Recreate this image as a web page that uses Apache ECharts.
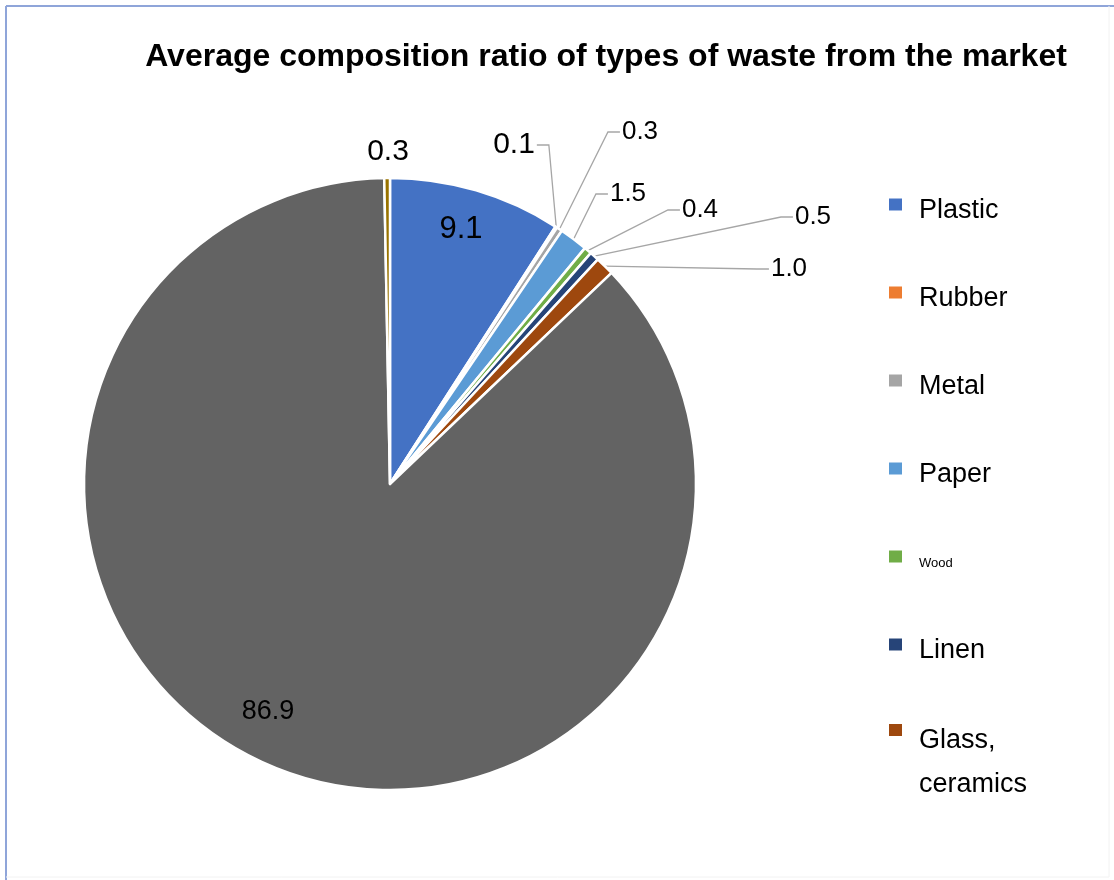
<!DOCTYPE html>
<html>
<head>
<meta charset="utf-8">
<script src="https://cdn.jsdelivr.net/npm/echarts@6/dist/echarts.min.js"></script>
<style>
html,body{margin:0;padding:0;background:#ffffff;}
#main{width:1114px;height:880px;}
</style>
</head>
<body>
<div id="main"></div>
<script>
// ---- data ----
const categories = ['Plastic', 'Rubber', 'Metal', 'Paper', 'Wood', 'Linen', 'Glass, ceramics', 'Organic', 'Other'];
const values = [9.1, 0.1, 0.3, 1.5, 0.4, 0.5, 1.0, 86.9, 0.3];
const legendMain = ['Plastic', 'Rubber', 'Metal', 'Paper', 'Wood', 'Linen'];
const legendLast = ['Glass, ceramics'];
const titleText = 'Average composition ratio of types of waste from the market';

// ---- styles / layout (kept apart from data) ----
const colors = ['#4472C4', '#ED7D31', '#A5A5A5', '#5B9BD5', '#70AD47', '#264478', '#9E480E', '#636363', '#997300'];
const labelPos = [[461, 229], [514, 145], [640, 132], [628, 194], [700, 210], [813, 217], [789, 269], [268, 712], [388, 152]];
const labelSize = [31, 30, 26, 26, 26, 26, 26, 27, 30];
const hasLine = [false, true, true, true, true, true, true, false, false];
const FONT = "'Liberation Sans', Arial, sans-serif";
// square marker sitting in the upper part of a taller box (so the text sits a little lower, as in the original)
const iconMain = 'path://M0,0h15v14h-15z M0,26.99h0.01v0.01h-0.01z';
const iconLast = 'path://M0,0h15v14h-15z M0,35.99h0.01v0.01h-0.01z';

const chart = echarts.init(document.getElementById('main'), null, {renderer: 'canvas'});

const seriesData = categories.map((name, i) => ({
  name: name,
  value: values[i],
  itemStyle: {color: colors[i]},
  label: {fontSize: labelSize[i]},
  labelLine: {show: hasLine[i]}
}));

const option = {
  backgroundColor: '#ffffff',
  animation: false,
  title: {
    text: titleText,
    left: 601,
    textAlign: 'center',
    top: 36,
    textStyle: {fontFamily: FONT, fontSize: 32, fontWeight: 'bold', color: '#000000'}
  },
  graphic: [
    {type: 'line', shape: {x1: 6, y1: 6, x2: 1114, y2: 6}, style: {stroke: '#8FA5D9', lineWidth: 2}, silent: true},
    {type: 'line', shape: {x1: 6, y1: 6, x2: 6, y2: 880}, style: {stroke: '#8FA5D9', lineWidth: 2}, silent: true},
    {type: 'line', shape: {x1: 6, y1: 877, x2: 1109, y2: 877}, style: {stroke: '#F2F2F2', lineWidth: 1}, silent: true},
    {type: 'line', shape: {x1: 1109, y1: 6, x2: 1109, y2: 877}, style: {stroke: '#F2F2F2', lineWidth: 1}, silent: true}
  ],
  legend: [
    {
      data: legendMain.map(n => n === 'Wood' ? {name: n, textStyle: {fontSize: 13, lineHeight: 30}} : n),
      orient: 'vertical',
      left: 882,
      top: 191,
      itemWidth: 15,
      itemHeight: 27,
      itemGap: 58,
      icon: iconMain,
      symbolKeepAspect: false,
      textStyle: {fontFamily: FONT, fontSize: 27, lineHeight: 30, color: '#000000', padding: [0, 0, 0, 11]}
    },
    {
      data: legendLast,
      orient: 'vertical',
      left: 882,
      top: 670,
      itemWidth: 15,
      itemHeight: 36,
      icon: iconLast,
      symbolKeepAspect: false,
      formatter: n => '\n' + n.replace(', ', ',\n'),
      textStyle: {fontFamily: FONT, fontSize: 27, lineHeight: 44, color: '#000000', padding: [0, 0, 0, 11]}
    }
  ],
  series: [{
    type: 'pie',
    center: [390, 484],
    radius: 306,
    startAngle: 90,
    clockwise: true,
    avoidLabelOverlap: false,
    legendHoverLink: false,
    itemStyle: {borderColor: '#ffffff', borderWidth: 2.5},
    label: {
      show: true,
      position: 'outside',
      fontFamily: FONT,
      color: '#000000',
      formatter: p => p.value.toFixed(1)
    },
    labelLine: {show: true, length: 10, length2: 12, lineStyle: {color: '#A6A6A6', width: 1.3}},
    labelLayout: function (params) {
      const i = params.dataIndex;
      const p = labelPos[i];
      const res = {x: p[0], y: p[1], align: 'center', verticalAlign: 'middle', hideOverlap: false};
      if (hasLine[i] && params.labelLinePoints) {
        const anchor = params.labelLinePoints[0];
        const w = params.labelRect.width;
        const gap = 2;
        let ex, bx;
        if (p[0] > anchor[0]) {
          ex = p[0] - w / 2 - gap;
          bx = ex - 12;
        } else {
          ex = p[0] + w / 2 + gap;
          bx = ex + 12;
        }
        res.labelLinePoints = [[anchor[0], anchor[1]], [bx, p[1]], [ex, p[1]]];
      }
      return res;
    },
    emphasis: {disabled: true},
    data: seriesData
  }]
};

chart.setOption(option);
</script>
</body>
</html>
